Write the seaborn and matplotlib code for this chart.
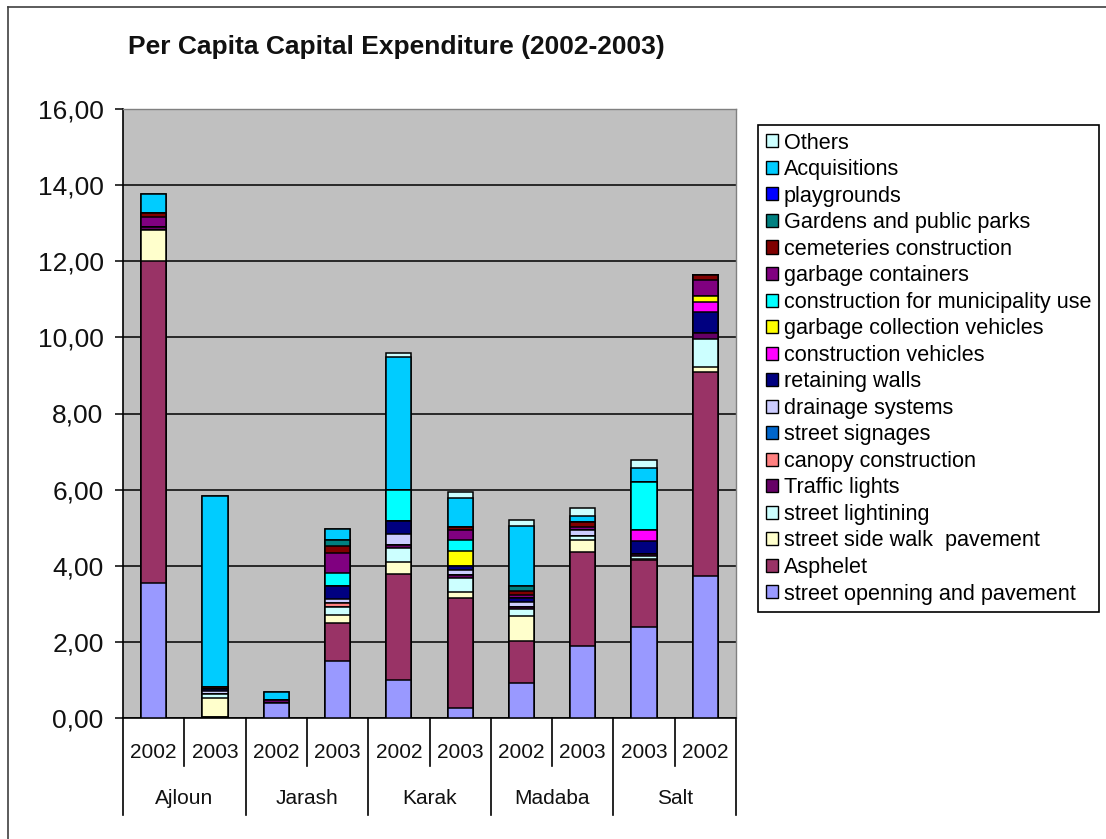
import matplotlib
matplotlib.use("Agg")
import matplotlib.pyplot as plt
import matplotlib.transforms as mtransforms
from matplotlib.patches import Patch
from matplotlib.lines import Line2D
import numpy as np
import seaborn as sns

# Category axis: governorate / year pairs
regions = ["Ajloun", "Jarash", "Karak", "Madaba", "Salt"]
years = ["2002", "2003", "2002", "2003", "2002", "2003", "2002", "2003", "2003", "2002"]

# Per capita capital expenditure by item (stacked bottom -> top)
street_openning = [3.55, 0.03, 0.40, 1.51, 1.00, 0.27, 0.91, 1.90, 2.38, 3.72]
asphelet = [8.45, 0.00, 0.00, 0.99, 2.78, 2.88, 1.12, 2.46, 1.78, 5.38]
side_walk = [0.83, 0.50, 0.00, 0.21, 0.32, 0.16, 0.64, 0.32, 0.02, 0.11]
street_lightining = [0.00, 0.10, 0.00, 0.20, 0.36, 0.37, 0.19, 0.10, 0.08, 0.76]
traffic_lights = [0.08, 0.00, 0.08, 0.00, 0.08, 0.07, 0.06, 0.00, 0.05, 0.15]
canopy = [0.00, 0.00, 0.00, 0.12, 0.00, 0.00, 0.00, 0.00, 0.00, 0.00]
street_signages = [0.00, 0.00, 0.00, 0.00, 0.00, 0.00, 0.00, 0.00, 0.00, 0.00]
drainage = [0.00, 0.08, 0.00, 0.10, 0.29, 0.13, 0.12, 0.15, 0.00, 0.00]
retaining_walls = [0.00, 0.05, 0.00, 0.35, 0.34, 0.12, 0.10, 0.00, 0.33, 0.55]
construction_vehicles = [0.00, 0.00, 0.00, 0.00, 0.00, 0.00, 0.00, 0.00, 0.30, 0.27]
garbage_vehicles = [0.00, 0.00, 0.00, 0.00, 0.00, 0.40, 0.00, 0.00, 0.00, 0.14]
municipality_use = [0.00, 0.00, 0.00, 0.33, 0.83, 0.27, 0.00, 0.00, 1.26, 0.00]
garbage_containers = [0.26, 0.00, 0.00, 0.53, 0.00, 0.28, 0.10, 0.10, 0.00, 0.42]
cemeteries = [0.10, 0.05, 0.00, 0.17, 0.00, 0.06, 0.10, 0.13, 0.00, 0.14]
gardens = [0.00, 0.00, 0.00, 0.16, 0.00, 0.00, 0.13, 0.00, 0.00, 0.00]
playgrounds = [0.00, 0.00, 0.00, 0.00, 0.00, 0.00, 0.00, 0.00, 0.00, 0.00]
acquisitions = [0.50, 5.03, 0.20, 0.30, 3.48, 0.77, 1.57, 0.16, 0.38, 0.00]
others = [0.00, 0.00, 0.00, 0.00, 0.10, 0.16, 0.15, 0.20, 0.20, 0.00]

series_labels = [
    "street openning and pavement", "Asphelet", "street side walk  pavement",
    "street lightining", "Traffic lights", "canopy construction", "street signages",
    "drainage systems", "retaining walls", "construction vehicles",
    "garbage collection vehicles", "construction for municipality use",
    "garbage containers", "cemeteries construction", "Gardens and public parks",
    "playgrounds", "Acquisitions", "Others",
]
series_values = [
    street_openning, asphelet, side_walk, street_lightining, traffic_lights, canopy,
    street_signages, drainage, retaining_walls, construction_vehicles, garbage_vehicles,
    municipality_use, garbage_containers, cemeteries, gardens, playgrounds,
    acquisitions, others,
]
series_colors = [
    "#9999FF", "#993366", "#FFFFCC", "#CCFFFF", "#660066", "#FF8080", "#0066CC",
    "#CCCCFF", "#000080", "#FF00FF", "#FFFF00", "#00FFFF", "#800080", "#800000",
    "#008080", "#0000FF", "#00CCFF", "#CCFFFF",
]

plt.rcParams["font.family"] = ["Liberation Sans", "DejaVu Sans"]

W, H = 1106, 839
fig = plt.figure(figsize=(W / 100, H / 100), dpi=100)
fig.patch.set_facecolor("white")

ax = fig.add_axes([123 / W, 1 - 718 / H, (736 - 123) / W, (718 - 109) / H])
ax.set_facecolor("#C0C0C0")

bar_keys = [f"{r} {y}" for r, y in zip(np.repeat(regions, 2), years)]
cumulative = np.cumsum(np.array(series_values), axis=0)

# Draw the stack from the top layer down so each lower layer covers the one above
for k in range(len(series_labels) - 1, -1, -1):
    sns.barplot(x=bar_keys, y=cumulative[k], order=bar_keys, color=series_colors[k],
                saturation=1, width=0.41, edgecolor="black", linewidth=1.1,
                errorbar=None, ax=ax, zorder=3)

ax.set_xlim(-0.5, 9.5)
ax.set_ylim(0, 16)
ax.set_yticks(np.arange(0, 17, 2))
ax.set_yticklabels([f"{v:.2f}".replace(".", ",") for v in np.arange(0, 17, 2)],
                   fontsize=19, color="#111111")
ax.tick_params(axis="y", direction="out", length=6, width=1.1, color="black", pad=8)
ax.set_xticks([])
ax.set_xlabel("")
ax.set_ylabel("")
ax.set_axisbelow(True)
ax.yaxis.grid(True, color="black", linewidth=1.1, zorder=0)
ax.xaxis.grid(False)
ax.spines["left"].set_color("black")
ax.spines["bottom"].set_color("black")
ax.spines["left"].set_linewidth(1.2)
ax.spines["bottom"].set_linewidth(1.2)
for s in ("top", "right"):
    ax.spines[s].set_color("#808080")
    ax.spines[s].set_linewidth(1.0)

# Two-level category axis below the plot
trans = mtransforms.blended_transform_factory(ax.transData, ax.transAxes)
px = 1 / (718 - 109)
for i, yr in enumerate(years):
    ax.text(i, -34 * px, yr, transform=trans, ha="center", va="center",
            fontsize=15, color="#111111")
for j, reg in enumerate(regions):
    ax.text(2 * j + 0.5, -80 * px, reg, transform=trans, ha="center", va="center",
            fontsize=15, color="#111111")
    ax.add_line(Line2D([2 * j + 0.5, 2 * j + 0.5], [0, -48 * px], transform=trans,
                       color="black", linewidth=1.2, clip_on=False))
for b in np.arange(-0.5, 10, 2):
    ax.add_line(Line2D([b, b], [0, -97 * px], transform=trans,
                       color="black", linewidth=1.2, clip_on=False))

fig.text(396 / W, 1 - 47 / H, "Per Capita Capital Expenditure (2002-2003)",
         ha="center", va="center", fontsize=19, fontweight="bold", color="#111111")

# Legend, top entry = top of stack
handles = [Patch(facecolor=c, edgecolor="black", linewidth=1.0)
           for c in series_colors[::-1]]
leg = fig.legend(handles, series_labels[::-1], loc="upper left",
                 bbox_to_anchor=(758 / W, 1 - 125 / H), fontsize=15.6,
                 frameon=True, fancybox=False, edgecolor="black", framealpha=1,
                 handlelength=0.55, handleheight=0.55, handletextpad=0.3,
                 labelspacing=0.255, borderpad=0.35, borderaxespad=0)
leg.get_frame().set_linewidth(1.2)

# Outer chart frame
fig.add_artist(Line2D([8 / W, 8 / W], [0, 1 - 7 / H], transform=fig.transFigure,
                      color="#404040", linewidth=1.2))
fig.add_artist(Line2D([8 / W, 1], [1 - 7 / H, 1 - 7 / H], transform=fig.transFigure,
                      color="#404040", linewidth=1.2))

fig.savefig("out.png", dpi=100, facecolor="white")
